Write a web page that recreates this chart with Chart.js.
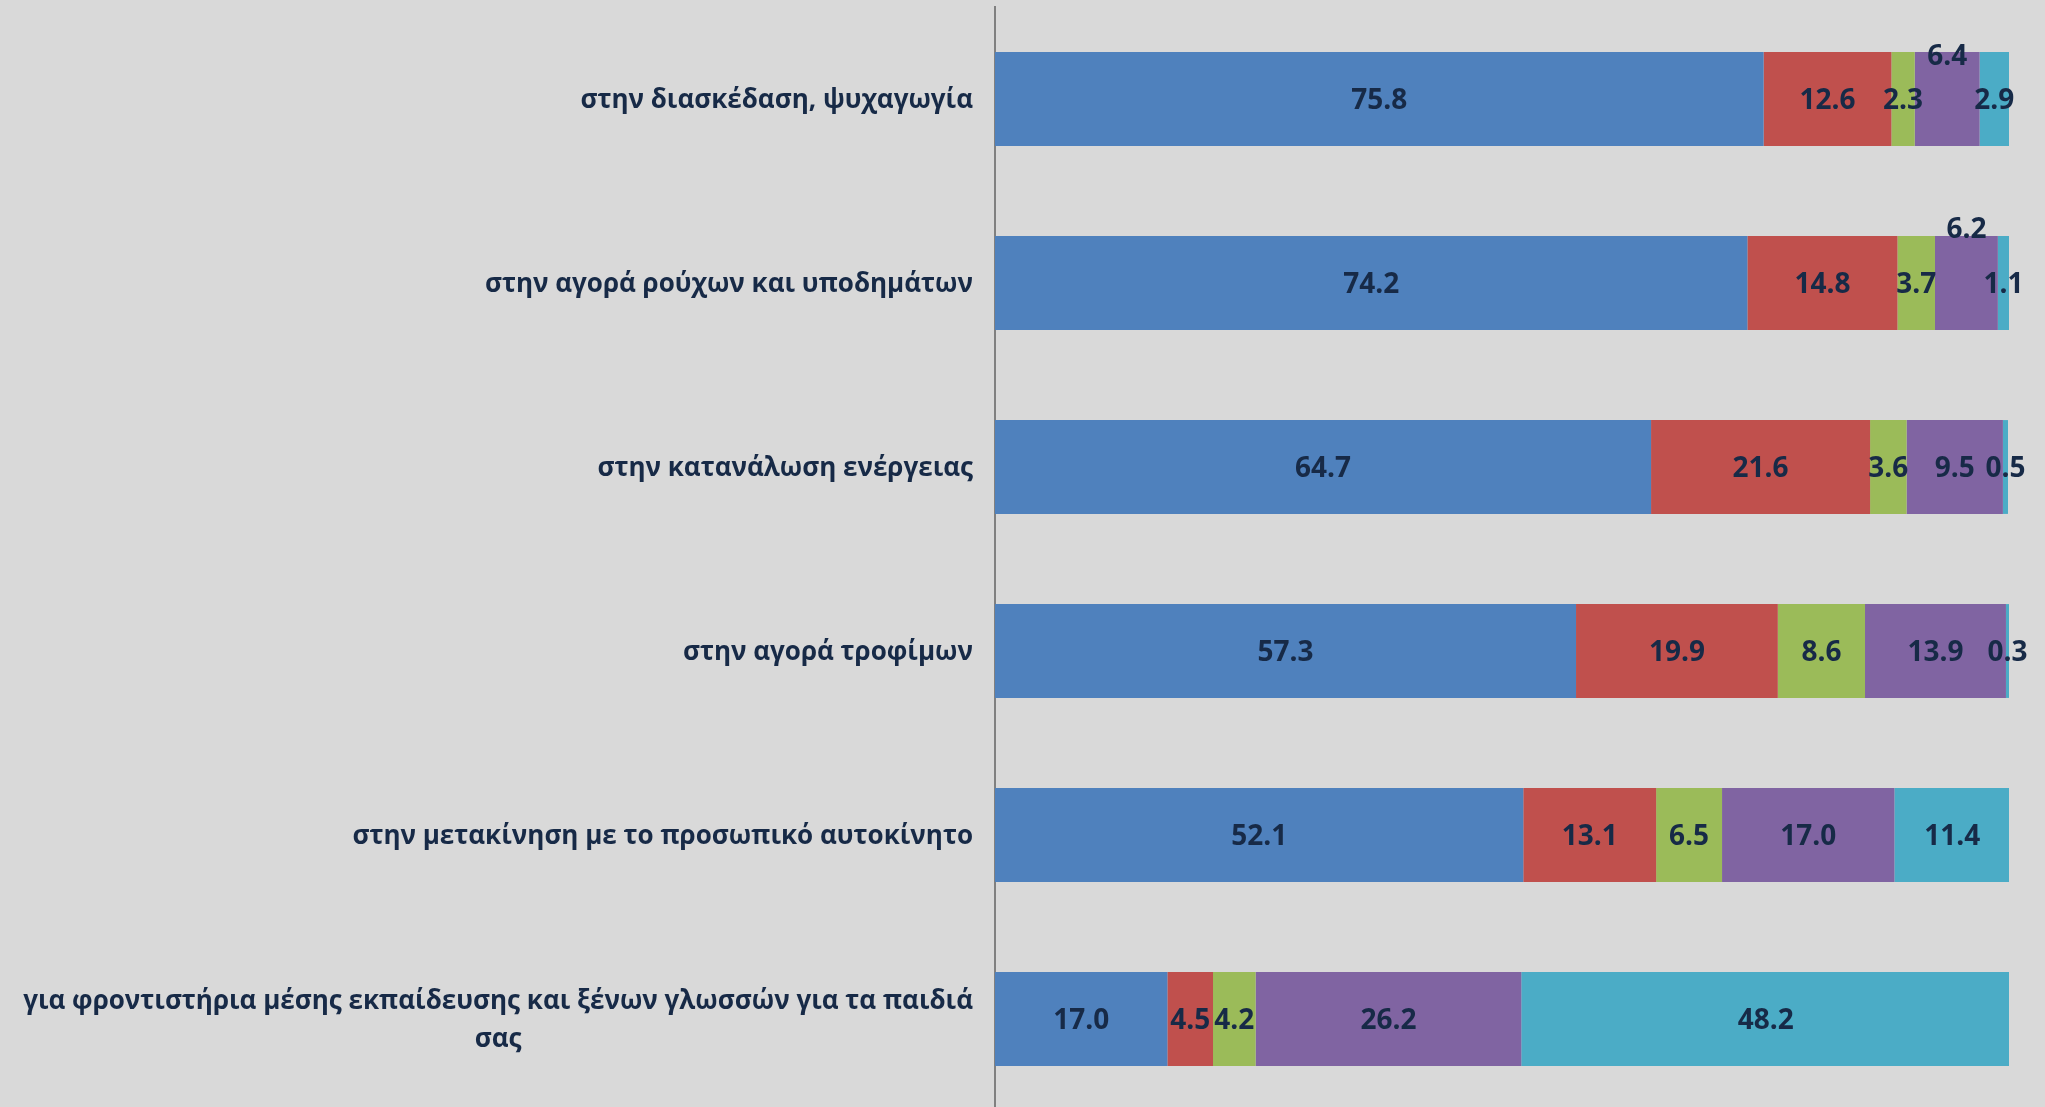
<!DOCTYPE html>
<html>
<head>
<meta charset="utf-8">
<script src="https://cdn.jsdelivr.net/npm/chart.js@4/dist/chart.umd.min.js"></script>
<style>
    html, body { margin: 0; padding: 0; background: #d9d9d9; overflow: hidden; }
    canvas { display: block; }
</style>
</head>
<body>
<canvas id="spendChart" width="2045" height="1111"></canvas>
<script>
const categories = [
    "στην διασκέδαση, ψυχαγωγία",
    "στην αγορά ρούχων και υποδημάτων",
    "στην κατανάλωση ενέργειας",
    "στην αγορά τροφίμων",
    "στην μετακίνηση με το προσωπικό αυτοκίνητο",
    ["για φροντιστήρια μέσης εκπαίδευσης και ξένων γλωσσών για τα παιδιά", "σας"],
];

const series1 = [75.8, 74.2, 64.7, 57.3, 52.1, 17.0];
const series2 = [12.6, 14.8, 21.6, 19.9, 13.1, 4.5];
const series3 = [2.3, 3.7, 3.6, 8.6, 6.5, 4.2];
const series4 = [6.4, 6.2, 9.5, 13.9, 17.0, 26.2];
const series5 = [2.9, 1.1, 0.5, 0.3, 11.4, 48.2];

const colors = ["#4f81bd", "#c0504d", "#9bbb59", "#8064a2", "#4bacc6"];
const textColor = "#172a47";

// labels that Excel had moved above the bar
const liftedLabels = { "3-0": 44, "3-1": 55 };

const valueLabels = {
    id: "valueLabels",
    afterDatasetsDraw(chart) {
        const ctx = chart.ctx;
        ctx.save();
        ctx.font = "bold 28px 'Open Sans'";
        ctx.fillStyle = textColor;
        ctx.textAlign = "center";
        ctx.textBaseline = "middle";
        chart.data.datasets.forEach((ds, di) => {
            chart.getDatasetMeta(di).data.forEach((bar, i) => {
                const lift = liftedLabels[di + "-" + i] || 0;
                const cx = (bar.x + bar.base) / 2;
                ctx.fillText(ds.data[i].toFixed(1), cx, bar.y + 2 - lift);
            });
        });
        ctx.restore();
    },
};

// category names drawn by hand so a wrapped label stays centred under its first line
const categoryLabels = {
    id: "categoryLabels",
    afterDraw(chart) {
        const ctx = chart.ctx;
        const yScale = chart.scales.y;
        const right = 973;
        const lineH = 38;
        ctx.save();
        ctx.font = "bold 26px 'Open Sans'";
        ctx.fillStyle = textColor;
        ctx.textAlign = "center";
        ctx.textBaseline = "middle";
        categories.forEach((label, i) => {
            const lines = Array.isArray(label) ? label : [label];
            const maxW = Math.max(...lines.map((l) => ctx.measureText(l).width));
            const cx = right - maxW / 2;
            const y0 = yScale.getPixelForValue(i) + 2 - ((lines.length - 1) * lineH) / 2;
            lines.forEach((l, k) => ctx.fillText(l, cx, y0 + k * lineH));
        });
        ctx.restore();
    },
};

const seriesList = [series1, series2, series3, series4, series5];

new Chart(document.getElementById("spendChart"), {
    type: "bar",
    data: {
        labels: categories,
        datasets: seriesList.map((s, i) => ({
            data: s,
            backgroundColor: colors[i],
            borderWidth: 0,
            barPercentage: 0.51,
            categoryPercentage: 1,
        })),
    },
    options: {
        indexAxis: "y",
        responsive: false,
        animation: false,
        layout: {
            padding: { left: 987, right: 36, top: 7, bottom: 0 },
        },
        plugins: {
            legend: { display: false },
            tooltip: { enabled: false },
        },
        scales: {
            x: {
                stacked: true,
                min: 0,
                max: 100,
                display: false,
            },
            y: {
                stacked: true,
                ticks: { display: false },
                grid: { display: false },
                border: { display: true, color: "#808080", width: 2 },
            },
        },
    },
    plugins: [valueLabels, categoryLabels],
});
</script>
</body>
</html>
